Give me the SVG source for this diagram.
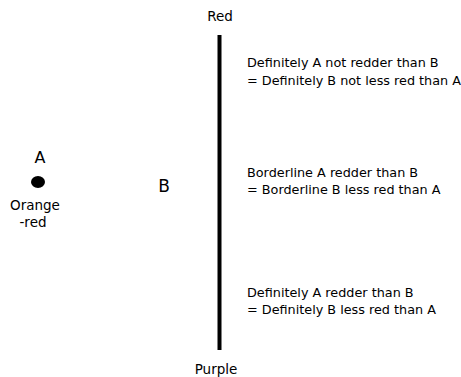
<svg xmlns="http://www.w3.org/2000/svg" width="461" height="377" viewBox="0 0 461 377">
<style>
  text { font-family: "DejaVu Sans", "Liberation Sans", sans-serif; fill: #000; }
  .lbl { font-size: 12.8px; }
  .end { font-size: 13.5px; }
  .big { font-size: 16px; }
  .mid { text-anchor: middle; }
</style>
<rect width="461" height="377" fill="#fff"/>
<!-- scale axis -->
<g id="axis">
  <line x1="219.5" y1="35" x2="219.5" y2="350" stroke="#000" stroke-width="4"/>
  <text class="end mid" x="220" y="21">Red</text>
  <text class="end mid" x="216" y="374">Purple</text>
</g>
<g id="nodeA">
  <text class="big mid" x="40" y="163">A</text>
  <ellipse cx="38" cy="182" rx="7" ry="6" fill="#000"/>
  <text class="end mid" x="35" y="210">Orange</text>
  <text class="end mid" x="33" y="227">-red</text>
</g>
<g id="nodeB">
  <text class="big mid" x="164" y="192" style="font-size:17px">B</text>
</g>
<g id="region-top">
  <text class="lbl" x="247" y="67">Definitely A not redder than B</text>
  <text class="lbl" x="247" y="85">= Definitely B not less red than A</text>
</g>
<g id="region-mid">
  <text class="lbl" x="247" y="177">Borderline A redder than B</text>
  <text class="lbl" x="247" y="194">= Borderline B less red than A</text>
</g>
<g id="region-bottom">
  <text class="lbl" x="247" y="297">Definitely A redder than B</text>
  <text class="lbl" x="247" y="314">= Definitely B less red than A</text>
</g>
<g id="connectors"></g>
</svg>
